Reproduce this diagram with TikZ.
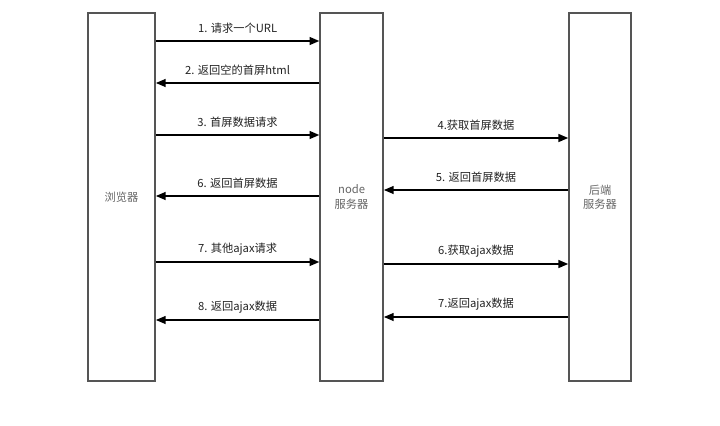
\documentclass[tikz,border=0pt]{standalone}
\usepackage{fontspec}
\setmainfont{Noto Sans CJK SC}
\usepackage{tikz}
\usetikzlibrary{arrows.meta}
\usepackage{xcolor}
\definecolor{boxline}{HTML}{555555}
\definecolor{boxtext}{HTML}{666666}
\definecolor{msgtext}{HTML}{222222}
\tikzset{
  lane/.style={draw=boxline, line width=1.05pt, fill=white, align=center,
    minimum height=9.2cm, inner sep=0pt, text=boxtext},
  msg/.style={-{Triangle[length=7pt, width=5.6pt]}, line width=1.2pt, draw=black},
  lbl/.style={midway, yshift=0.32cm, text=msgtext, inner sep=0pt}
}

\begin{document}
\begin{tikzpicture}[font=\fontsize{8pt}{10pt}\selectfont]
  \useasboundingbox (0,0) rectangle (18,-10.65);

  \node[lane, minimum width=1.675cm] (browser) at (3.04,-4.925) {浏览器};
  \node[lane, minimum width=1.575cm] (nodesrv) at (8.79,-4.925) {node\\服务器};
  \node[lane, minimum width=1.55cm] (backend) at (15.0,-4.925) {后端\\服务器};

  % browser <-> node
  \draw[msg] (browser.east |- 0,-1.025) -- (nodesrv.west |- 0,-1.025)
    node[lbl] {1. 请求一个URL};
  \draw[msg] (nodesrv.west |- 0,-2.075) -- (browser.east |- 0,-2.075)
    node[lbl] {2. 返回空的首屏html};
  \draw[msg] (browser.east |- 0,-3.375) -- (nodesrv.west |- 0,-3.375)
    node[lbl] {3. 首屏数据请求};
  \draw[msg] (nodesrv.west |- 0,-4.9) -- (browser.east |- 0,-4.9)
    node[lbl] {6. 返回首屏数据};
  \draw[msg] (browser.east |- 0,-6.55) -- (nodesrv.west |- 0,-6.55)
    node[lbl] {7. 其他ajax请求};
  \draw[msg] (nodesrv.west |- 0,-8.0) -- (browser.east |- 0,-8.0)
    node[lbl] {8. 返回ajax数据};

  % node <-> backend
  \draw[msg] (nodesrv.east |- 0,-3.45) -- (backend.west |- 0,-3.45)
    node[lbl] {4.获取首屏数据};
  \draw[msg] (backend.west |- 0,-4.75) -- (nodesrv.east |- 0,-4.75)
    node[lbl] {5. 返回首屏数据};
  \draw[msg] (nodesrv.east |- 0,-6.6) -- (backend.west |- 0,-6.6)
    node[lbl] {6.获取ajax数据};
  \draw[msg] (backend.west |- 0,-7.925) -- (nodesrv.east |- 0,-7.925)
    node[lbl] {7.返回ajax数据};
\end{tikzpicture}
\end{document}
